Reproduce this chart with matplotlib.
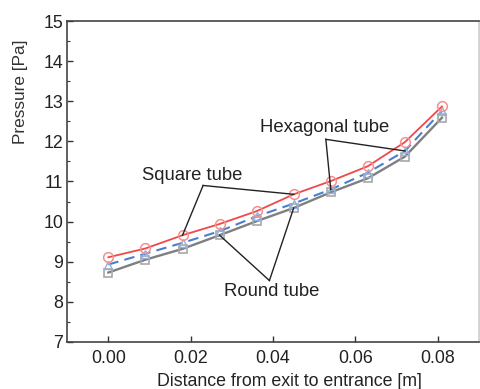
import numpy as np
import matplotlib.pyplot as plt
from matplotlib.ticker import MultipleLocator

plt.rcParams["font.family"] = ["Liberation Sans", "DejaVu Sans"]

# distance from exit [m]
distance = [0.000, 0.009, 0.018, 0.027, 0.036, 0.045, 0.054, 0.063, 0.072, 0.081]

# pressure [Pa] for each tube shape
square_p = [9.11, 9.33, 9.66, 9.94, 10.26, 10.68, 11.01, 11.38, 11.98, 12.87]
hexagonal_p = [8.93, 9.20, 9.47, 9.76, 10.13, 10.45, 10.80, 11.22, 11.76, 12.76]
round_p = [8.73, 9.05, 9.32, 9.66, 10.01, 10.34, 10.73, 11.08, 11.62, 12.59]

fig = plt.figure(figsize=(4.8, 3.89), dpi=100)
ax = fig.add_axes([0.14, 0.121, 0.858, 0.825])

ax.plot(distance, round_p, "-", color="#7f7f7f", lw=1.7, zorder=2)
ax.plot(distance, round_p, "s", ms=6, mfc="none", mec="#a8a8a8", mew=1.2, zorder=3)
ax.plot(distance, hexagonal_p, "--", color="#4a7fcf", lw=1.5, dashes=(5, 3), zorder=2)
ax.plot(distance, hexagonal_p, "^", ms=6, mfc="none", mec="#8fb2e4", mew=1.0, zorder=3)
ax.plot(distance, square_p, "-", color="#f04848", lw=1.3, zorder=2)
ax.plot(distance, square_p, "o", ms=7, mfc="none", mec="#f49090", mew=1.1, zorder=3)

# labels with leader lines pointing at two points of each curve
notes = [
    ("Square tube", (0.0203, 11.16), (0.0230, 10.90), [(0.018, square_p[2]), (0.045, square_p[5])]),
    ("Hexagonal tube", (0.0524, 12.34), (0.0528, 12.05), [(0.072, hexagonal_p[8]), (0.054, hexagonal_p[6])]),
    ("Round tube", (0.0397, 8.26), (0.0391, 8.53), [(0.027, round_p[3]), (0.045, round_p[5])]),
]
for text, txt_xy, vertex, targets in notes:
    ax.text(*txt_xy, text, ha="center", va="center", fontsize=13.3, color="#222222")
    for tx, ty in targets:
        ax.plot([vertex[0], tx], [vertex[1], ty], color="#222222", lw=1.0, zorder=4)

ax.set_xlim(-0.01, 0.09)
ax.set_ylim(7, 15)
ax.set_xticks([0.00, 0.02, 0.04, 0.06, 0.08])
ax.set_xticklabels(["0.00", "0.02", "0.04", "0.06", "0.08"])
ax.yaxis.set_major_locator(MultipleLocator(1))
ax.yaxis.set_minor_locator(MultipleLocator(0.5))

ax.tick_params(which="both", direction="in", labelsize=12.8, labelcolor="#222222",
               color="#333333")
ax.tick_params(which="major", length=4, width=1)
ax.tick_params(which="minor", length=2.5, width=0.8)
ax.tick_params(axis="x", pad=6)
ax.tick_params(axis="y", pad=3)

for spine in ax.spines.values():
    spine.set_color("#444444")
    spine.set_linewidth(1.2)
ax.spines["right"].set_color("#cccccc")

ax.set_xlabel("Distance from exit to entrance [m]", fontsize=12.8, color="#222222")
ax.set_ylabel("Pressure [Pa]", fontsize=12.4, color="#333333")
ax.xaxis.set_label_coords(0.54, -0.098)
ax.yaxis.set_label_coords(-0.094, 0.779)

fig.savefig("out.png", dpi=100)
